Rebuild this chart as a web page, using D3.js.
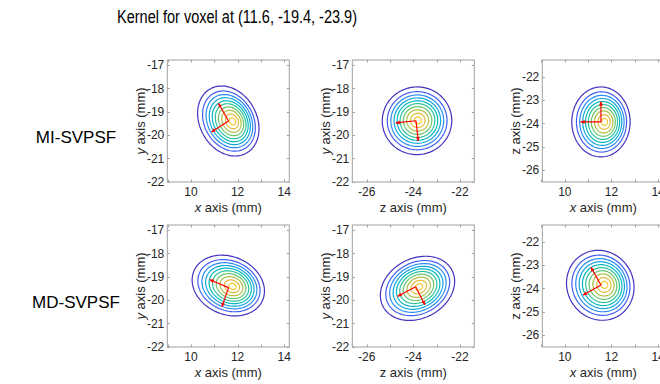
<!DOCTYPE html>
<html>
<head>
<meta charset="utf-8">
<script src="https://cdn.jsdelivr.net/npm/d3@7"></script>
<style>
  body { margin: 0; background: #fff; }
  svg { display: block; font-family: "Liberation Sans", Arial, sans-serif; }
</style>
</head>
<body>
<div id="chart"></div>
<script>
const title = "Kernel for voxel at (11.6, -19.4, -23.9)";
const rowNames = ["MI-SVPSF", "MD-SVPSF"];
const xAxisNames = ["x", "z", "x"];
const yAxisNames = ["y", "y", "z"];
const xCenters = [11.6, -24.0, 11.65];
const yCenters = [-19.4, -19.4, -23.9];
const halfSpan = 2.615;
const xTickVals = [[9, 10, 11, 12, 13, 14], [-26, -25, -24, -23, -22], [9, 10, 11, 12, 13, 14]];
const xTickLabels = [[10, 12, 14], [-26, -24, -22], [10, 12, 14]];
const yTickVals = [[-22, -21, -20, -19, -18, -17], [-22, -21, -20, -19, -18, -17], [-26, -25, -24, -23, -22]];

// contour rings, panels in row order (MI: xy, zy, xz, then MD)
const outerCx = [11.6, -23.84, 11.55, 11.6, -23.82, 11.52];
const outerCy = [-19.4, -19.39, -23.94, -19.38, -19.5, -23.87];
const peakCx = [11.8, -23.8, 11.72, 11.8, -23.75, 11.72];
const peakCy = [-19.42, -19.37, -23.94, -19.42, -19.43, -23.85];
const semiMajor = [1.58, 1.49, 1.5, 1.6, 1.67, 1.525];
const semiMinor = [1.22, 1.45, 1.25, 1.24, 1.28, 1.42];
const tiltDeg = [119.5, 6, 90, 157, 28, 120];
const ringScale = [1, 0.86, 0.76, 0.67, 0.585, 0.5, 0.41, 0.315, 0.21, 0.1];

// principal axis arrows
const arrowOx = [11.61, -23.885, 11.55, 11.61, -23.9, 11.55];
const arrowOy = [-19.4, -19.39, -23.94, -19.47, -19.43, -23.86];
const arrowDirA = [119.5, 186, 90, 157, 208, 119.5];
const arrowDirB = [213, 276.5, 180, 251, 297, 209];
const arrowLen = 0.87;

const width = 660, height = 384;
const boxLeft = [167.3, 352.3, 542.3];
const boxTop = [60, 225];
const boxSize = 122;

const parula = d3.scaleLinear()
  .domain([0, 0.1, 0.2, 0.3, 0.4, 0.5, 0.6, 0.7, 0.8, 0.9, 1])
  .range(["#3e26a8", "#4852f4", "#2d87f7", "#12a4e0", "#06b8c0", "#2cc29a", "#6dc562", "#bbbc35", "#f1b93a", "#f9d12a", "#f9fb15"])
  .interpolate(d3.interpolateRgb);

const svg = d3.select("#chart").append("svg")
  .attr("width", width)
  .attr("height", height);

svg.append("rect").attr("width", width).attr("height", height).attr("fill", "#fff");

const defs = svg.append("defs");
defs.append("marker")
  .attr("id", "head")
  .attr("markerUnits", "userSpaceOnUse")
  .attr("markerWidth", 6).attr("markerHeight", 6)
  .attr("viewBox", "0 -3 6 6")
  .attr("refX", 4).attr("refY", 0)
  .attr("orient", "auto")
  .append("path")
  .attr("d", "M0,-1.9L4.5,0L0,1.9Z")
  .attr("fill", "#ff0000");

svg.append("text")
  .attr("x", 237).attr("y", 23)
  .attr("text-anchor", "middle")
  .attr("font-size", 17.5)
  .attr("textLength", 240)
  .attr("lengthAdjust", "spacingAndGlyphs")
  .attr("fill", "#000")
  .text(title);

rowNames.forEach((name, r) => {
  svg.append("text")
    .attr("x", 76).attr("y", boxTop[r] + 83)
    .attr("text-anchor", "middle")
    .attr("font-size", 17)
    .attr("fill", "#000")
    .text(name);
});

function axisLabel(sel, letter) {
  sel.append("tspan").attr("font-style", letter === "z" ? "normal" : "italic").text(letter);
  sel.append("tspan").text(" axis (mm)");
}

const line = d3.line().curve(d3.curveLinearClosed);

for (let r = 0; r < 2; r++) {
  for (let c = 0; c < 3; c++) {
    const p = r * 3 + c;
    const x0 = boxLeft[c], y0 = boxTop[r];
    const x = d3.scaleLinear().domain([xCenters[c] - halfSpan, xCenters[c] + halfSpan]).range([x0, x0 + boxSize]);
    const y = d3.scaleLinear().domain([yCenters[c] - halfSpan, yCenters[c] + halfSpan]).range([y0 + boxSize, y0]);

    const g = svg.append("g");
    const clipId = "clip" + p;
    defs.append("clipPath").attr("id", clipId)
      .append("rect").attr("x", x0).attr("y", y0).attr("width", boxSize).attr("height", boxSize);

    // contour rings
    const plot = g.append("g").attr("clip-path", `url(#${clipId})`);
    const th = tiltDeg[p] * Math.PI / 180;
    const angles = d3.range(0, 2 * Math.PI, Math.PI / 60);
    ringScale.forEach((s, i) => {
      const cx = outerCx[p] + (1 - s) * (peakCx[p] - outerCx[p]);
      const cy = outerCy[p] + (1 - s) * (peakCy[p] - outerCy[p]);
      const a = semiMajor[p] * s, b = semiMinor[p] * s;
      const pts = angles.map(t => {
        const u = a * Math.cos(t), v = b * Math.sin(t);
        return [x(cx + u * Math.cos(th) - v * Math.sin(th)), y(cy + u * Math.sin(th) + v * Math.cos(th))];
      });
      plot.append("path")
        .attr("d", line(pts))
        .attr("fill", "none")
        .attr("stroke", parula(0.03 + i * 0.093))
        .attr("stroke-width", 1.2);
    });

    // arrows
    [arrowDirA[p], arrowDirB[p]].forEach(deg => {
      const ph = deg * Math.PI / 180;
      plot.append("line")
        .attr("x1", x(arrowOx[p])).attr("y1", y(arrowOy[p]))
        .attr("x2", x(arrowOx[p] + arrowLen * Math.cos(ph)))
        .attr("y2", y(arrowOy[p] + arrowLen * Math.sin(ph)))
        .attr("stroke", "#ff0000")
        .attr("stroke-width", 1.2)
        .attr("marker-end", "url(#head)");
    });

    // box and ticks (inward, all four sides)
    const tl = 2.5;
    const axes = g.append("g").attr("stroke", "#a0a0a0").attr("stroke-width", 1).attr("fill", "none");
    axes.append("rect").attr("x", x0).attr("y", y0).attr("width", boxSize).attr("height", boxSize);
    xTickVals[c].forEach(v => {
      const px = Math.round(x(v)) + 0.5;
      axes.append("line").attr("x1", px).attr("x2", px).attr("y1", y0 + boxSize).attr("y2", y0 + boxSize - tl);
      axes.append("line").attr("x1", px).attr("x2", px).attr("y1", y0).attr("y2", y0 + tl);
    });
    yTickVals[c].forEach(v => {
      const py = Math.round(y(v)) + 0.5;
      axes.append("line").attr("y1", py).attr("y2", py).attr("x1", x0).attr("x2", x0 + tl);
      axes.append("line").attr("y1", py).attr("y2", py).attr("x1", x0 + boxSize).attr("x2", x0 + boxSize - tl);
    });

    // tick labels
    xTickLabels[c].forEach(v => {
      g.append("text")
        .attr("x", x(v)).attr("y", y0 + boxSize + 14)
        .attr("text-anchor", "middle")
        .attr("font-size", 12)
        .attr("fill", "#262626")
        .text(v);
    });
    yTickVals[c].forEach(v => {
      g.append("text")
        .attr("x", x0 - 3).attr("y", y(v) + 4.2)
        .attr("text-anchor", "end")
        .attr("font-size", 12)
        .attr("fill", "#262626")
        .text(v);
    });

    // axis labels
    g.append("text")
      .attr("x", x0 + boxSize / 2).attr("y", y0 + boxSize + 29.5)
      .attr("text-anchor", "middle")
      .attr("font-size", 13)
      .attr("fill", "#262626")
      .call(axisLabel, xAxisNames[c]);
    g.append("text")
      .attr("transform", `translate(${x0 - 22},${y0 + boxSize / 2}) rotate(-90)`)
      .attr("text-anchor", "middle")
      .attr("font-size", 13)
      .attr("fill", "#262626")
      .call(axisLabel, yAxisNames[c]);
  }
}
</script>
</body>
</html>
